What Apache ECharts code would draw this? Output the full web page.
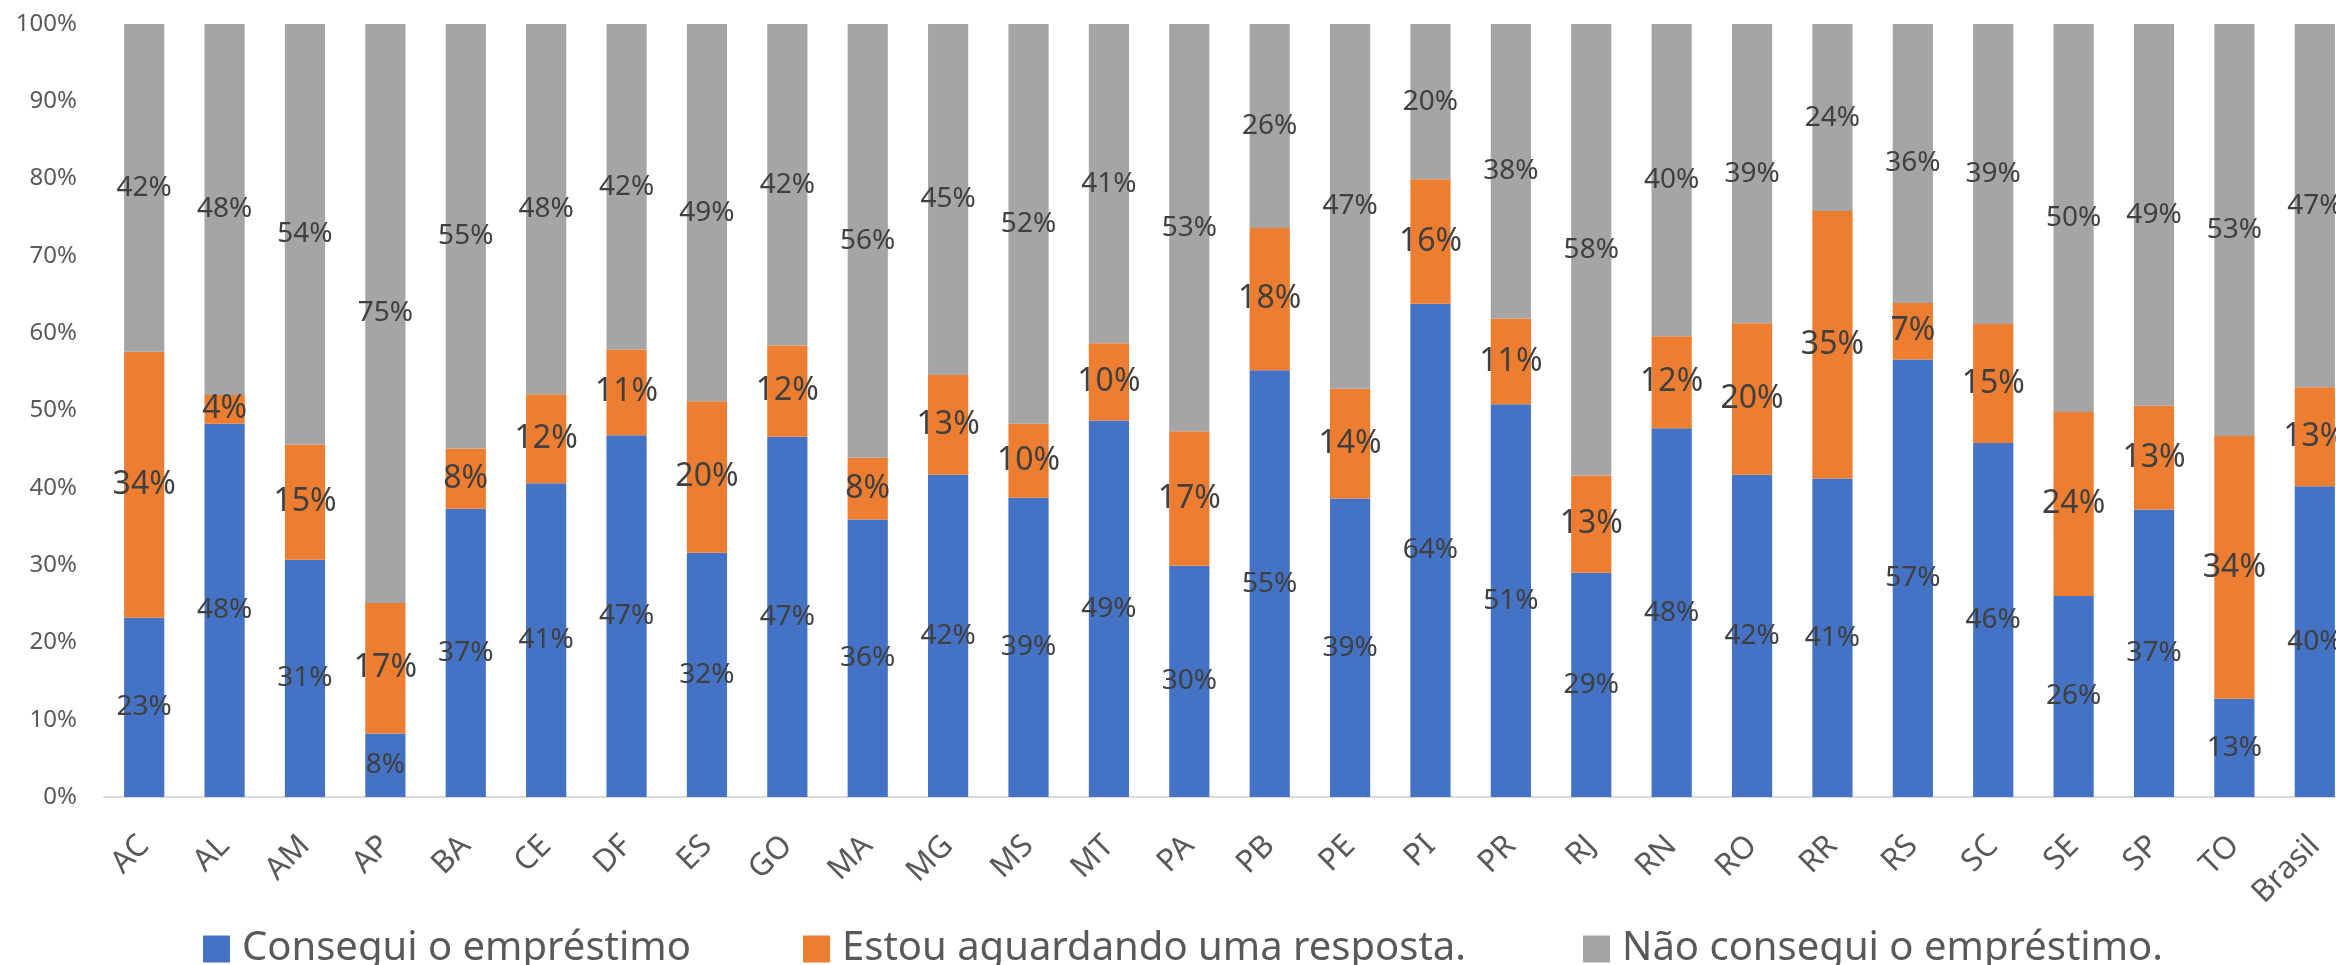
<!DOCTYPE html>
<html>

<head>
    <meta charset="UTF-8">
    <script src="https://cdn.jsdelivr.net/npm/echarts@6/dist/echarts.min.js"></script>
    <style>
    html, body {
        margin: 0;
        padding: 0;
        background: #fff;
    }
    #chart {
        width: 2336px;
        height: 965px;
    }
    </style>
</head>

<body>
    <div id="chart"></div>
    <script>
    // estados + Brasil
    var categories = ['AC', 'AL', 'AM', 'AP', 'BA', 'CE', 'DF', 'ES', 'GO', 'MA', 'MG', 'MS', 'MT', 'PA',
        'PB', 'PE', 'PI', 'PR', 'RJ', 'RN', 'RO', 'RR', 'RS', 'SC', 'SE', 'SP', 'TO', 'Brasil'];
    var seriesNames = ['Consegui o empréstimo', 'Estou aguardando uma resposta.', 'Não consegui o empréstimo.'];
    // valores em %
    var conseguiu = [23.2, 48.3, 30.7, 8.2, 37.3, 40.6, 46.8, 31.6, 46.6, 35.9, 41.7, 38.7, 48.7, 29.9,
        55.2, 38.6, 63.8, 50.8, 29.0, 47.7, 41.7, 41.2, 56.6, 45.8, 26.0, 37.2, 12.7, 40.2];
    var aguardando = [34.4, 3.7, 14.9, 16.9, 7.8, 11.5, 11.1, 19.6, 11.8, 8.0, 12.9, 9.6, 10.0, 17.4,
        18.4, 14.2, 16.1, 11.1, 12.6, 11.9, 19.6, 34.6, 7.3, 15.4, 23.8, 13.4, 34.0, 12.8];
    var naoConseguiu = [42.4, 48.0, 54.4, 74.9, 54.9, 47.9, 42.1, 48.8, 41.6, 56.1, 45.4, 51.7, 41.3, 52.7,
        26.4, 47.2, 20.1, 38.1, 58.4, 40.4, 38.7, 24.2, 36.1, 38.8, 50.2, 49.4, 53.3, 47.0];
    var yTicks = [0, 10, 20, 30, 40, 50, 60, 70, 80, 90, 100];
    var colors = ['#4472C4', '#ED7D31', '#A5A5A5'];

    var FONT = 'Noto Sans';

    function makeSeries(name, data, color, labelSize) {
        return {
            name: name,
            type: 'bar',
            stack: 'total',
            barWidth: '50%',
            itemStyle: { color: color },
            label: {
                show: true,
                position: 'inside',
                color: '#404040',
                fontFamily: FONT,
                fontSize: labelSize,
                formatter: function(p) {
                    return Math.round(p.value) + '%';
                }
            },
            data: data
        };
    }

    function makeLegend(name, left) {
        return {
            data: [name],
            left: left,
            top: 929,
            padding: 0,
            icon: 'rect',
            itemWidth: 27,
            itemHeight: 27,
            textStyle: {
                fontFamily: FONT,
                fontSize: 40,
                color: '#595959',
                padding: [0, 0, 0, 7]
            }
        };
    }

    var option = {
        animation: false,
        backgroundColor: '#fff',
        color: colors,
        legend: [
            makeLegend(seriesNames[0], 203),
            makeLegend(seriesNames[1], 803),
            makeLegend(seriesNames[2], 1583)
        ],
        grid: {
            left: 104,
            top: 24,
            width: 2251,
            height: 773,
            containLabel: false,
            outerBoundsMode: 'none'
        },
        xAxis: {
            type: 'category',
            data: categories,
            axisLine: { lineStyle: { color: '#d9d9d9', width: 2 } },
            axisTick: { show: false },
            axisLabel: {
                rotate: 45,
                margin: 44,
                interval: 0,
                fontFamily: FONT,
                fontSize: 31,
                color: '#595959'
            }
        },
        yAxis: {
            type: 'value',
            min: yTicks[0],
            max: yTicks[yTicks.length - 1],
            interval: 10,
            axisLine: { show: false },
            axisTick: { show: false },
            splitLine: { show: false },
            axisLabel: {
                margin: 27,
                fontFamily: FONT,
                fontSize: 24,
                color: '#595959',
                formatter: '{value}%'
            }
        },
        series: [
            makeSeries(seriesNames[0], conseguiu, colors[0], 28),
            makeSeries(seriesNames[1], aguardando, colors[1], 32),
            makeSeries(seriesNames[2], naoConseguiu, colors[2], 28)
        ]
    };

    var myChart = echarts.init(document.getElementById('chart'));
    myChart.setOption(option);
    </script>
</body>

</html>
